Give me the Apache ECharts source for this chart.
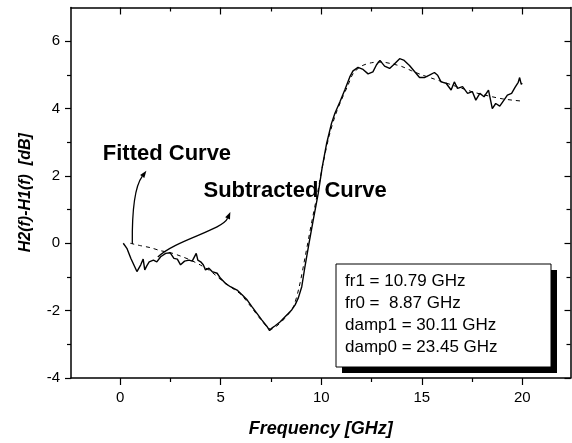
<!DOCTYPE html>
<html>
<head>
<meta charset="utf-8">
<script src="https://cdn.jsdelivr.net/npm/echarts@6/dist/echarts.min.js"></script>
<style>
  html, body { margin: 0; padding: 0; background: #fff; }
  #chart { width: 572px; height: 443px; }
</style>
</head>
<body>
<div id="chart"></div>
<script>
// Measured response difference H2(f)-H1(f) and its two-pole fit
const subtractedFreq = [
  0.15, 0.33, 0.53, 0.83, 1.02, 1.14, 1.22, 1.32, 1.44, 1.52, 1.65, 1.82, 2.01, 2.26, 2.48,
  2.67, 2.84, 3.00, 3.20, 3.42, 3.58, 3.78, 3.86, 4.00, 4.13, 4.24, 4.41, 4.57, 4.82, 4.99,
  5.23, 5.48, 5.81, 6.06, 6.31, 6.55, 6.80, 7.05, 7.30, 7.43, 7.54, 7.71, 7.96, 8.20, 8.53,
  8.70, 8.86, 9.03, 9.19, 9.39, 9.60, 9.85, 10.05, 10.27, 10.51, 10.68, 10.93, 11.17, 11.42,
  11.58, 11.83, 12.08, 12.33, 12.57, 12.75, 12.92, 13.15, 13.40, 13.60, 13.90, 14.10, 14.39,
  14.64, 14.89, 15.13, 15.38, 15.63, 15.79, 15.96, 16.21, 16.46, 16.62, 16.78, 17.03, 17.28,
  17.52, 17.69, 17.89, 18.10, 18.32, 18.51, 18.68, 18.88, 19.09, 19.26, 19.47, 19.64, 19.80,
  19.87, 19.95, 20.00
];
const subtractedDb = [
  0.00, -0.15, -0.45, -0.84, -0.64, -0.47, -0.79, -0.67, -0.55, -0.59, -0.50, -0.55, -0.40, -0.30, -0.28,
  -0.45, -0.47, -0.64, -0.53, -0.50, -0.53, -0.30, -0.50, -0.55, -0.64, -0.79, -0.74, -0.84, -0.89, -1.04,
  -1.19, -1.29, -1.39, -1.53, -1.68, -1.88, -2.08, -2.28, -2.47, -2.59, -2.52, -2.45, -2.33, -2.18, -1.98,
  -1.83, -1.62, -1.29, -0.69, 0.00, 0.69, 1.48, 2.27, 2.97, 3.56, 3.86, 4.20, 4.55, 4.94,
  5.12, 5.22, 5.16, 5.03, 5.09, 5.30, 5.43, 5.26, 5.19, 5.30, 5.48, 5.44, 5.28,
  5.10, 4.92, 4.92, 4.99, 5.07, 4.99, 4.79, 4.75, 4.55, 4.79, 4.60, 4.65, 4.45,
  4.50, 4.25, 4.45, 4.35, 4.55, 4.00, 4.15, 4.07, 4.25, 4.40, 4.45, 4.63, 4.78,
  4.92, 4.72, 4.75
];
const fittedFreq = [
  0.5, 1.0, 1.5, 2.0, 2.5, 3.0, 3.5, 4.0, 4.5, 5.0, 5.5, 6.0, 6.5, 7.0, 7.5, 7.8, 8.2, 8.6,
  8.9, 9.2, 9.5, 9.8, 10.1, 10.4, 10.7, 11.0, 11.3, 11.6, 12.0, 12.5, 13.0, 13.5, 14.0, 14.5,
  15.0, 15.5, 16.0, 16.5, 17.0, 17.5, 18.0, 18.5, 19.0, 19.5, 20.0
];
const fittedDb = [
  0.00, -0.07, -0.13, -0.22, -0.28, -0.38, -0.50, -0.65, -0.83, -1.08, -1.30, -1.52, -1.88, -2.27, -2.55, -2.45, -2.22, -1.90,
  -1.30, -0.40, 0.55, 1.45, 2.40, 3.20, 3.80, 4.25, 4.65, 5.05, 5.26, 5.36, 5.38, 5.33, 5.25, 5.12,
  5.00, 4.90, 4.80, 4.70, 4.60, 4.50, 4.42, 4.35, 4.29, 4.25, 4.22
];

// Axis ticks and labels
const xMajorTicks = [0, 5, 10, 15, 20];
const xMinorTicks = [2.5, 7.5, 12.5, 17.5];
const yMajorTicks = [-4, -2, 0, 2, 4, 6];
const yMinorTicks = [-3, -1, 1, 3, 5];
const xRange = [-2.45, 22.4];
const yRange = [-4, 7];

// Fit parameters shown in the text box
const fitParams = [
  'fr1 = 10.79 GHz',
  'fr0 =  8.87 GHz',
  'damp1 = 30.11 GHz',
  'damp0 = 23.45 GHz'
];

// Annotation labels
const fittedLabel = 'Fitted Curve';
const subtractedLabel = 'Subtracted Curve';

const FONT = "Arial, 'Liberation Sans', sans-serif";
const zip = (a, b) => a.map((v, i) => [v, b[i]]);

const chart = echarts.init(document.getElementById('chart'), null, { renderer: 'canvas' });

function xAxisDef(position, ticks, len, inside, withLabels, withLine, name) {
  return {
    type: 'value', position: position, min: xRange[0], max: xRange[1],
    splitLine: { show: false },
    axisLine: { show: withLine, onZero: false, lineStyle: { color: '#000', width: 1.5 } },
    axisTick: { show: true, customValues: ticks, inside: inside, length: len, lineStyle: { color: '#000', width: 1.2 } },
    axisLabel: withLabels
      ? { show: true, customValues: ticks, margin: 12, color: '#000', fontSize: 15, fontFamily: FONT }
      : { show: false },
    name: name || '', nameLocation: 'middle', nameGap: 42,
    nameTextStyle: { color: '#000', fontSize: 18, fontWeight: 'bold', fontStyle: 'italic', fontFamily: FONT }
  };
}
function yAxisDef(position, ticks, len, inside, withLabels, withLine, name) {
  return {
    type: 'value', position: position, min: yRange[0], max: yRange[1],
    splitLine: { show: false },
    axisLine: { show: withLine, onZero: false, lineStyle: { color: '#000', width: 1.5 } },
    axisTick: { show: true, customValues: ticks, inside: inside, length: len, lineStyle: { color: '#000', width: 1.2 } },
    axisLabel: withLabels
      ? { show: true, customValues: ticks, margin: 11, color: '#000', fontSize: 15, fontFamily: FONT }
      : { show: false },
    name: name || '', nameLocation: 'middle', nameGap: 37,
    nameTextStyle: { color: '#000', fontSize: 16, fontWeight: 'bold', fontStyle: 'italic', fontFamily: FONT }
  };
}

chart.setOption({
  backgroundColor: '#fff',
  animation: false,
  grid: { left: 71, right: 1.5, top: 7.5, bottom: 64.7, containLabel: false },
  xAxis: [
    xAxisDef('bottom', xMajorTicks, 7, false, true, true, 'Frequency [GHz]'),
    xAxisDef('bottom', xMinorTicks, 4, false, false, false),
    xAxisDef('top', xMajorTicks, 7, true, false, true),
    xAxisDef('top', xMinorTicks, 4, true, false, false)
  ],
  yAxis: [
    yAxisDef('left', yMajorTicks, 6, false, true, true, 'H2(f)-H1(f)  [dB]'),
    yAxisDef('left', yMinorTicks, 4, false, false, false),
    yAxisDef('right', yMajorTicks, 6, true, false, true),
    yAxisDef('right', yMinorTicks, 4, true, false, false)
  ],
  series: [
    {
      name: 'Subtracted Curve', type: 'line', xAxisIndex: 0, yAxisIndex: 0,
      data: zip(subtractedFreq, subtractedDb),
      showSymbol: false, smooth: false,
      lineStyle: { color: '#000', width: 1.4 }, z: 3
    },
    {
      name: 'Fitted Curve', type: 'line', xAxisIndex: 0, yAxisIndex: 0,
      data: zip(fittedFreq, fittedDb),
      showSymbol: false, smooth: 0.3,
      lineStyle: { color: '#000', width: 1, type: [4, 4] }, z: 2
    }
  ]
});

// Annotation geometry, given in data coordinates and mapped through the axes
const toPx = (p) => chart.convertToPixel({ xAxisIndex: 0, yAxisIndex: 0 }, p);

function arrowGraphic(start, cp1, cp2, end) {
  const s = toPx(start), c1 = toPx(cp1), c2 = toPx(cp2), e = toPx(end);
  const dx = e[0] - c2[0], dy = e[1] - c2[1];
  const l = Math.hypot(dx, dy) || 1;
  const ux = dx / l, uy = dy / l;
  const hl = 7, hw = 2.6;
  const bx = e[0] - ux * hl, by = e[1] - uy * hl;
  return [
    {
      type: 'bezierCurve',
      shape: { x1: s[0], y1: s[1], cpx1: c1[0], cpy1: c1[1], cpx2: c2[0], cpy2: c2[1], x2: bx, y2: by },
      style: { stroke: '#000', lineWidth: 1.3, fill: null }, z: 10
    },
    {
      type: 'polygon',
      shape: { points: [[e[0], e[1]], [bx - uy * hw, by + ux * hw], [bx + uy * hw, by - ux * hw]] },
      style: { fill: '#000' }, z: 10
    }
  ];
}

const fittedLabelPx = toPx([-0.87, 2.65]);
const subtractedLabelPx = toPx([4.14, 1.55]);

const boxX = 336, boxY = 264, boxW = 215, boxH = 103, shadow = 6;
const paramTexts = fitParams.map((t, i) => ({
  type: 'text', z: 12,
  style: {
    text: t, x: boxX + 9, y: boxY + 17 + i * 22,
    font: '17px ' + FONT, fill: '#000', textAlign: 'left', textVerticalAlign: 'middle'
  }
}));

chart.setOption({
  graphic: [
    ...arrowGraphic([0.6, -0.02], [0.58, 1.14], [0.78, 1.73], [1.30, 2.15]),
    ...arrowGraphic([1.87, -0.41], [2.76, 0.10], [5.08, 0.39], [5.48, 0.93]),
    {
      type: 'text', z: 11,
      style: {
        text: fittedLabel, x: fittedLabelPx[0], y: fittedLabelPx[1],
        font: 'bold 22px ' + FONT, fill: '#000', textAlign: 'left', textVerticalAlign: 'middle'
      }
    },
    {
      type: 'text', z: 11,
      style: {
        text: subtractedLabel, x: subtractedLabelPx[0], y: subtractedLabelPx[1],
        font: 'bold 22px ' + FONT, fill: '#000', textAlign: 'left', textVerticalAlign: 'middle'
      }
    },
    {
      type: 'rect', z: 11,
      shape: { x: boxX + shadow, y: boxY + shadow, width: boxW, height: boxH },
      style: { fill: '#000' }
    },
    {
      type: 'rect', z: 11,
      shape: { x: boxX, y: boxY, width: boxW, height: boxH },
      style: { fill: '#fff', stroke: '#000', lineWidth: 1 }
    },
    ...paramTexts
  ]
});
</script>
</body>
</html>
